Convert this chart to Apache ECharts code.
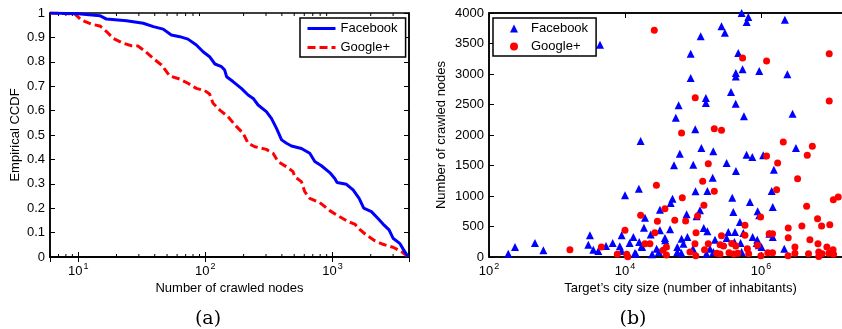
<!DOCTYPE html>
<html><head><meta charset="utf-8">
<script src="https://cdn.jsdelivr.net/npm/echarts@6/dist/echarts.min.js"></script>
<style>html,body{margin:0;padding:0;background:#fff}#c{width:842px;height:329px}</style>
</head><body><div id="c"></div>
<script>
// Panel (a): empirical CCDF of number of crawled nodes  [nodes, ccdf]
const fbCcdf = [[6,1.0],[10,0.997],[14.8,0.989],[16.7,0.975],[24,0.968],[32.5,0.958],[39,0.944],[46.6,0.934],[54,0.91],[63,0.903],[73,0.893],[85,0.869],[96,0.841],[108,0.821],[119,0.791],[134,0.78],[142,0.766],[147,0.739],[165,0.719],[192,0.691],[217,0.664],[238,0.65],[260,0.623],[302,0.596],[331,0.568],[363,0.527],[398,0.48],[435,0.466],[476,0.455],[570,0.445],[663,0.425],[726,0.391],[819,0.374],[952,0.346],[1043,0.322],[1087,0.305],[1288,0.298],[1453,0.275],[1621,0.24],[1762,0.2],[2024,0.186],[2282,0.158],[2500,0.135],[2788,0.111],[2995,0.077],[3380,0.056],[3700,0.022],[3950,0.0]];
const gpCcdf = [[6,1.0],[9.4,0.996],[10.6,0.971],[12.7,0.954],[14.8,0.947],[16.7,0.924],[18.9,0.896],[22.6,0.876],[26.3,0.866],[29.5,0.865],[33.4,0.844],[38.9,0.814],[45.2,0.787],[49.5,0.76],[52.5,0.742],[63,0.729],[73,0.712],[85,0.691],[99,0.682],[108,0.668],[115,0.63],[130,0.602],[151,0.575],[171,0.541],[198,0.507],[217,0.466],[245,0.452],[302,0.441],[341,0.425],[373,0.391],[434,0.37],[490,0.35],[505,0.329],[570,0.309],[605,0.268],[663,0.24],[794,0.223],[952,0.19],[1141,0.165],[1327,0.145],[1497,0.135],[1638,0.113],[1848,0.09],[2149,0.067],[2500,0.052],[2995,0.04],[3485,0.022],[3950,0.0]];
// Panel (b): [target's city size, number of crawled nodes]
const fbCity = [[4290,3480],[520000,4000],[652000,3934],[617000,3852],[2250000,3891],[263000,3781],[295000,3678],[130000,3617],[464000,3344],[92500,3333],[537000,3076],[427000,3016],[427000,2961],[944000,3049],[2450000,2994],[92500,2934],[363000,2704],[155000,2606],[155000,2524],[425000,2514],[61500,2486],[562000,2306],[2920000,2350],[56000,2284],[108000,2093],[17000,1901],[133000,1787],[3270000,1787],[199000,1732],[64000,1694],[615000,1677],[1080000,1666],[746000,1639],[313000,1541],[101000,1514],[52600,1503],[1550000,1432],[429000,1410],[195000,1300],[16000,1120],[109000,1076],[163000,1082],[1440000,1082],[10000,1011],[378000,973],[50000,956],[689000,902],[47000,885],[1490000,820],[32700,776],[127000,765],[893000,749],[392000,738],[80700,699],[945000,683],[113000,667],[19700,645],[491000,574],[19000,481],[144000,475],[46000,454],[32700,437],[163000,421],[415000,410],[331000,410],[550000,393],[1330000,382],[23900,367],[3050,355],[8930,355],[13300,328],[83000,328],[754000,328],[1490000,328],[38700,311],[313000,311],[68000,300],[211000,284],[883000,284],[39000,273],[407000,246],[474,230],[6600,230],[11700,230],[501000,230],[865000,230],[16200,246],[72400,219],[2890,202],[5260,180],[8400,175],[17600,175],[39800,191],[933000,191],[241,164],[17800,164],[58900,164],[1020000,164],[29200,137],[100000,137],[178000,137],[2200000,137],[630,109],[3420,120],[4050,98],[8900,98],[31600,82],[58900,82],[200000,82],[520000,82],[14000,66],[67600,66],[192,55],[14500,55],[158000,55],[25100,44]];
const gpCity = [[27000,3716],[10100000,3333],[537000,3262],[1210000,3213],[108000,2612],[10100000,2557],[68000,2033],[206000,2104],[263000,2076],[2130000,1885],[5700000,1814],[4800000,1666],[1210000,1656],[168000,1530],[1760000,1541],[3460000,1284],[139000,1240],[29000,1175],[206000,1076],[1700000,1104],[11600000,940],[13700000,984],[69700,973],[145000,847],[4700000,831],[38700,792],[17000,683],[117000,672],[988000,656],[30000,585],[54000,601],[78000,590],[582000,519],[6800000,628],[7800000,508],[10300000,530],[4000000,508],[10000,437],[111000,399],[27500,399],[2520000,475],[2520000,317],[5250000,284],[1320000,383],[1480000,383],[263000,350],[582000,355],[1550,120],[4500,164],[19700,219],[23300,219],[3160000,164],[6900000,219],[11500000,120],[9330000,164],[36300,109],[40700,164],[40700,33],[90400,82],[107000,219],[110000,20],[7700,44],[10600,44],[11000,5],[168000,219],[251000,200],[282000,180],[372000,220],[427000,180],[148000,120],[224000,60],[250000,50],[339000,70],[398000,50],[457000,60],[631000,137],[660000,55],[891000,191],[1000000,20],[1260000,70],[1480000,70],[2510000,20],[3160000,60],[5010000,55],[7080000,82],[7940000,55],[10000000,60],[11700000,44],[7080000,10]];
// minor tick positions of the log axis in panel (a)
const minorTicksA = [7,8,9,20,30,40,50,60,70,80,90,200,300,400,500,600,700,800,900,2000,3000];

const FONT = 'Liberation Sans';
const chart = echarts.init(document.getElementById('c'), null, {renderer: 'canvas'});

function supLabel(v) {
  const e = Math.log10(v), r = Math.round(e);
  if (Math.abs(e - r) > 1e-6) return '';
  return '{b|10}{e|' + r + '}';
}
const supRich = {
  b: {fontSize: 13, fontFamily: FONT, color: '#000', lineHeight: 18},
  e: {fontSize: 9, fontFamily: FONT, color: '#000', lineHeight: 9, verticalAlign: 'top', padding: [0,0,0,1]}
};
const axisLine = {show: true, lineStyle: {color: '#000', width: 1.5}};
const nameStyle = {fontSize: 13, fontFamily: FONT, color: '#000'};

function logX(grid, min, max, pos, extra) {
  return Object.assign({
    type: 'log', logBase: 10, gridIndex: grid, min: min, max: max, position: pos,
    axisLine: axisLine, splitLine: {show: false},
    axisTick: {show: true, inside: true, length: 5, lineStyle: {color: '#000'}},
    axisLabel: pos === 'bottom' ? {show: true, formatter: supLabel, rich: supRich, margin: 5} : {show: false}
  }, extra || {});
}
function valY(grid, min, max, interval, pos, extra) {
  return Object.assign({
    type: 'value', gridIndex: grid, min: min, max: max, interval: interval, position: pos,
    axisLine: axisLine, splitLine: {show: false},
    axisTick: {show: true, inside: true, length: 5, lineStyle: {color: '#000'}},
    axisLabel: pos === 'left' ? {show: true, fontSize: 13, fontFamily: FONT, color: '#000', margin: 5,
      formatter: v => String(+v.toFixed(2))} : {show: false}
  }, extra || {});
}
const legendText = {fontSize: 13, fontFamily: FONT, color: '#000'};

const option = {
  animation: false,
  backgroundColor: '#fff',
  grid: [
    {left: 50, top: 13, width: 359, height: 244, show: true, borderColor: '#000', borderWidth: 1.5, outerBoundsMode: 'none', containLabel: false},
    {left: 489, top: 13, width: 383, height: 244, show: true, borderColor: '#000', borderWidth: 1.5, outerBoundsMode: 'none', containLabel: false}
  ],
  xAxis: [
    logX(0, 6, 4000, 'bottom', {name: 'Number of crawled nodes', nameLocation: 'middle', nameGap: 24, nameTextStyle: nameStyle}),
    logX(0, 6, 4000, 'top'),
    logX(1, 100, 4.3e7, 'bottom', {interval: 2, name: "Target\u2019s city size (number of inhabitants)", nameLocation: 'middle', nameGap: 24, nameTextStyle: nameStyle}),
    logX(1, 100, 4.3e7, 'top', {interval: 2})
  ],
  yAxis: [
    valY(0, 0, 1, 0.1, 'left', {name: 'Empirical CCDF', nameLocation: 'middle', nameGap: 28, nameTextStyle: nameStyle}),
    valY(0, 0, 1, 0.1, 'right'),
    valY(1, 0, 4000, 500, 'left', {name: 'Number of crawled nodes', nameLocation: 'middle', nameGap: 41, nameTextStyle: nameStyle})
  ],
  legend: [
    {data: ['Facebook', 'Google+'], orient: 'vertical', left: 300, top: 18,
     itemWidth: 28, itemHeight: 14, itemGap: 6, padding: [4, 8, 3, 6], selectedMode: false,
     itemStyle: {opacity: 0}, lineStyle: {width: 3},
     borderColor: '#000', borderWidth: 1.5, backgroundColor: '#fff', textStyle: legendText},
    {data: ['Facebook (b)', 'Google+ (b)'], formatter: n => n.replace(' (b)', ''), orient: 'vertical', left: 493, top: 18,
     itemWidth: 8, itemHeight: 8, itemGap: 5, padding: [4, 8, 3, 17], selectedMode: false,
     borderColor: '#000', borderWidth: 1.5, backgroundColor: '#fff',
     textStyle: Object.assign({padding: [0, 0, 0, 8]}, legendText)}
  ],
  series: [
    {name: 'Facebook', type: 'line', xAxisIndex: 0, yAxisIndex: 0, data: fbCcdf, symbol: 'none', color: '#0000ff',
     lineStyle: {color: '#0000ff', width: 3}, z: 3},
    {name: 'Google+', type: 'line', xAxisIndex: 0, yAxisIndex: 0, data: gpCcdf, symbol: 'none', color: '#ff0000',
     lineStyle: {color: '#ff0000', width: 3, type: [8, 4]}, z: 2},
    {type: 'custom', xAxisIndex: 0, yAxisIndex: 0, silent: true, data: minorTicksA.map(v => [v, 0]),
     renderItem: function (params, api) {
       const v = api.value(0);
       const b = api.coord([v, 0]), t = api.coord([v, 1]);
       return {type: 'group', children: [
         {type: 'line', shape: {x1: b[0], y1: b[1], x2: b[0], y2: b[1] - 3}, style: {stroke: '#000', lineWidth: 1}},
         {type: 'line', shape: {x1: t[0], y1: t[1], x2: t[0], y2: t[1] + 3}, style: {stroke: '#000', lineWidth: 1}}
       ]};
     }},
    {name: 'Facebook (b)', type: 'scatter', xAxisIndex: 2, yAxisIndex: 2, data: fbCity, symbol: 'triangle', symbolSize: 8,
     color: '#0000ff', itemStyle: {color: '#0000ff', opacity: 1}, clip: false},
    {name: 'Google+ (b)', type: 'scatter', xAxisIndex: 2, yAxisIndex: 2, data: gpCity, symbol: 'circle', symbolSize: 7,
     color: '#ff0000', itemStyle: {color: '#ff0000', opacity: 1}, clip: false}
  ],
  graphic: [
    {type: 'text', x: 208, y: 319, style: {text: '(a)', font: '19px "DejaVu Serif"', fill: '#000', align: 'center', verticalAlign: 'middle'}},
    {type: 'text', x: 633, y: 319, style: {text: '(b)', font: '19px "DejaVu Serif"', fill: '#000', align: 'center', verticalAlign: 'middle'}}
  ]
};
chart.setOption(option);
</script></body></html>
